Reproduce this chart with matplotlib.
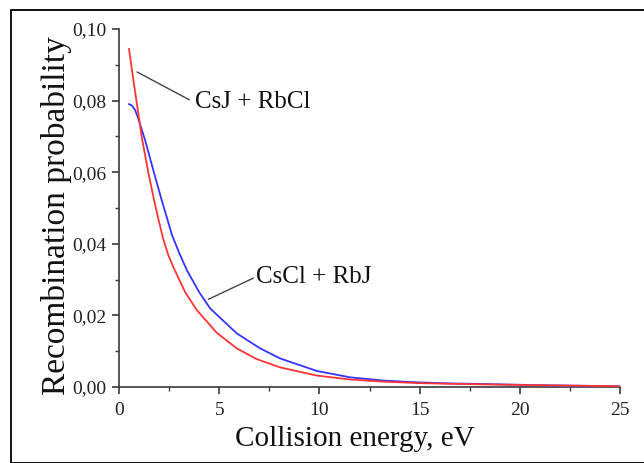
import matplotlib
matplotlib.use("Agg")
import matplotlib.pyplot as plt
from matplotlib.ticker import MultipleLocator, FuncFormatter
from matplotlib.patches import Rectangle

# Data
energy_red = [0.5, 0.75, 1.0, 1.13, 1.46, 1.75, 1.96, 2.2, 2.45, 2.71, 3.3, 3.88, 4.87,
              5.87, 6.87, 8.03, 9.86, 11.53, 13.19, 14.86, 16.52, 18.5, 21.0, 25.0]
prob_red = [0.0944, 0.0845, 0.0750, 0.0700, 0.0600, 0.0522, 0.0470, 0.0415, 0.0370, 0.0335,
            0.0265, 0.0215, 0.0152, 0.0108, 0.0078, 0.0055, 0.0032, 0.0021, 0.0015,
            0.0011, 0.0009, 0.0007, 0.0005, 0.0002]

energy_blue = [0.5, 0.65, 0.8, 0.93, 1.30, 1.71, 2.13, 2.38, 2.64, 3.0, 3.38, 4.0, 4.54,
               5.87, 7.04, 8.03, 9.86, 11.53, 13.19, 14.86, 16.52, 18.5, 21.0, 25.0]
prob_blue = [0.0790, 0.0786, 0.0774, 0.0755, 0.0690, 0.0606, 0.0522, 0.0475, 0.0425, 0.0375,
             0.0327, 0.0265, 0.0220, 0.0150, 0.0108, 0.0080, 0.0045, 0.0027, 0.0018,
             0.0013, 0.0010, 0.0008, 0.0005, 0.0002]

label_red = "CsJ + RbCl"
label_blue = "CsCl + RbJ"

plt.rcParams['font.family'] = ['Liberation Serif', 'DejaVu Serif']

fig = plt.figure(figsize=(6.44, 4.63), dpi=100)
fig.patch.set_facecolor('white')

# outer frame
fig.patches.append(Rectangle((11/644, 0), 2, 1 - 10/463, transform=fig.transFigure,
                             fill=False, edgecolor='black', linewidth=1.3, zorder=0))

ax = fig.add_axes([119/644, 1 - 387/463, (620 - 119)/644, (387 - 29)/463])

ax.plot(energy_blue, prob_blue, color='#3535ff', lw=1.3, zorder=3)
ax.plot(energy_red, prob_red, color='#ff3535', lw=1.3, zorder=4)

ax.set_xlim(0, 25)
ax.set_ylim(0, 0.10)

for s in ['top', 'right']:
    ax.spines[s].set_visible(False)
for s in ['left', 'bottom']:
    ax.spines[s].set_color('#3a3a3a')
    ax.spines[s].set_linewidth(1.2)

ax.xaxis.set_major_locator(MultipleLocator(5))
ax.xaxis.set_minor_locator(MultipleLocator(2.5))
ax.yaxis.set_major_locator(MultipleLocator(0.02))
ax.yaxis.set_minor_locator(MultipleLocator(0.01))
ax.yaxis.set_major_formatter(FuncFormatter(lambda v, p: f"{v:.2f}".replace('.', ',')))
ax.xaxis.set_major_formatter(FuncFormatter(lambda v, p: f"{v:.0f}"))

ax.tick_params(which='major', direction='out', length=5, width=1.2, color='#3a3a3a',
               labelsize=14, labelcolor='#222222')
ax.tick_params(axis='x', which='major', pad=6)
ax.tick_params(axis='y', which='major', pad=4)
ax.tick_params(which='minor', direction='out', length=3, width=1.0, color='#3a3a3a')

ax.set_xlabel("Collision energy, eV", fontsize=21, color='#111111')
ax.set_ylabel("Recombination probability", fontsize=24, color='#111111')
ax.xaxis.set_label_coords(0.471, -0.11)
ax.yaxis.set_label_coords(-0.094, 0.48)

# annotations
ax.annotate(label_red, xy=(0.9, 0.088), xytext=(3.8, 0.0796), fontsize=18,
            va='center', ha='left', color='#111111',
            arrowprops=dict(arrowstyle='-', color='#444444', lw=1.0,
                            shrinkA=0, shrinkB=0, relpos=(-0.05, 0.6)))
ax.annotate(label_blue, xy=(4.46, 0.0245), xytext=(6.85, 0.0308), fontsize=18,
            va='center', ha='left', color='#111111',
            arrowprops=dict(arrowstyle='-', color='#444444', lw=1.0,
                            shrinkA=0, shrinkB=0, relpos=(0.0, 0.5)))

fig.savefig("out.png", dpi=100, facecolor='white')
